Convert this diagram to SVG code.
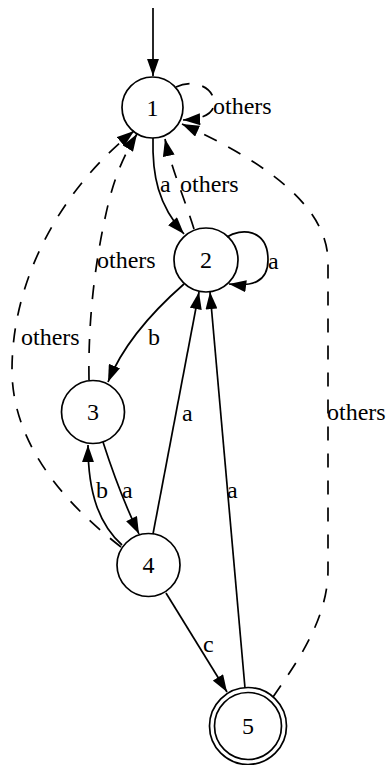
<svg xmlns="http://www.w3.org/2000/svg" width="388" height="765" viewBox="0 0 388 765">
<style>
.n{fill:none;stroke:#000;stroke-width:1.7}
.e{fill:none;stroke:#000;stroke-width:1.7;marker-end:url(#ah)}
.d{stroke-dasharray:14,13}
</style>
<defs>
<marker id="ah" viewBox="0 0 10 7" refX="10" refY="3.5" markerWidth="17.5" markerHeight="12" markerUnits="userSpaceOnUse" orient="auto">
<path d="M0,0 L10,3.5 L0,7 z" fill="#000"/>
</marker>
</defs>
<rect width="388" height="765" fill="#fff"/>
<g id="connectors" font-family="Liberation Serif" font-size="24" fill="#000">
<path class="e" d="M153,8 L153,76"/>
<path class="e d" d="M176,87 C192,79 214,86 214,103 C214,114 203,119 183,120"/>
<text x="213" y="114">others</text>
<path class="e" d="M153,138 C152,175 158,205 184,234"/>
<text x="160" y="192">a</text>
<path class="e d" d="M194,229 C185,200 172,170 165,139"/>
<text x="180" y="192">others</text>
<path class="e" d="M227,237 C240,228 268,228 268,260 C268,282 252,287 229,284"/>
<text x="268" y="269">a</text>
<path class="e" d="M184,284 C160,305 125,340 108,382"/>
<text x="148" y="345">b</text>
<path class="e d" d="M89,380 C88,320 95,260 108,205 C114,180 122,158 137,134"/>
<text x="97" y="268">others</text>
<path class="e d" d="M121,547 C60,500 12,440 12,370 C12,280 60,190 134,131"/>
<text x="21" y="345">others</text>
<path class="e" d="M103,442 C112,470 125,505 139,534"/>
<text x="122" y="498">a</text>
<path class="e" d="M122,545 C100,525 88,495 88,445"/>
<text x="96" y="498">b</text>
<path class="e" d="M153,534 L199,292"/>
<text x="182" y="421">a</text>
<path class="e" d="M245,688 L210,292"/>
<text x="227" y="498">a</text>
<path class="e" d="M166,593 L227,692"/>
<text x="203" y="652">c</text>
<path class="e d" d="M273,697 C295,665 328,620 328,570 L328,262 C328,200 250,155 182,124"/>
<text x="327" y="420">others</text>
</g>
<g id="node1" font-family="Liberation Serif" font-size="24" text-anchor="middle"><circle class="n" cx="152.5" cy="107.5" r="30.5"/><text x="152.5" y="115.5">1</text></g>
<g id="node2" font-family="Liberation Serif" font-size="24" text-anchor="middle"><circle class="n" cx="206" cy="260" r="32"/><text x="206" y="268">2</text></g>
<g id="node3" font-family="Liberation Serif" font-size="24" text-anchor="middle"><circle class="n" cx="93" cy="412" r="31.5"/><text x="93" y="420">3</text></g>
<g id="node4" font-family="Liberation Serif" font-size="24" text-anchor="middle"><circle class="n" cx="148.5" cy="565" r="31.5"/><text x="148.5" y="573">4</text></g>
<g id="node5" font-family="Liberation Serif" font-size="24" text-anchor="middle"><circle class="n" cx="248" cy="726" r="38.5"/><circle class="n" cx="248" cy="726" r="33.5"/><text x="248" y="734">5</text></g>
</svg>
